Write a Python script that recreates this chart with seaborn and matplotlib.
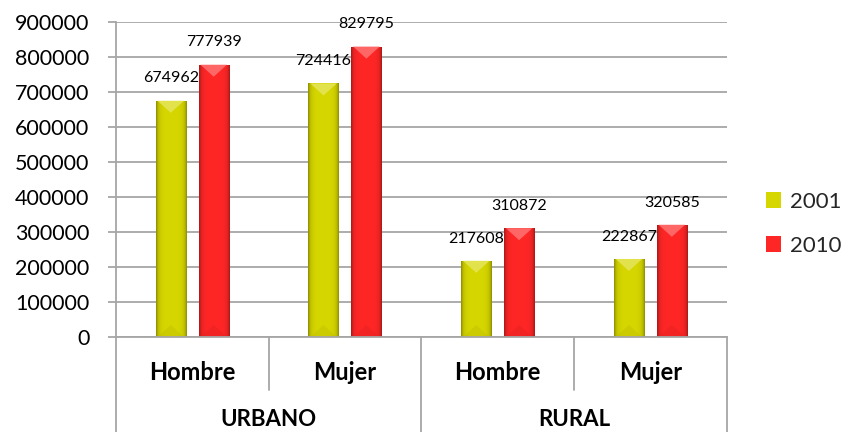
import numpy as np
import pandas as pd
import matplotlib
matplotlib.use("Agg")
import matplotlib.pyplot as plt
from matplotlib.patches import Polygon, Patch
from matplotlib.lines import Line2D
import matplotlib.transforms as mtransforms
import matplotlib.colors as mcolors
import seaborn as sns

# datos
zones = ["URBANO", "URBANO", "RURAL", "RURAL"]
sexes = ["Hombre", "Mujer", "Hombre", "Mujer"]
years = ["2001", "2010"]
values_2001 = [674962, 724416, 217608, 222867]
values_2010 = [777939, 829795, 310872, 320585]
yticks = [0, 100000, 200000, 300000, 400000, 500000, 600000, 700000, 800000, 900000]
colors = {"2001": "#D6D600", "2010": "#FF2626"}

keys = [z + " " + s for z, s in zip(zones, sexes)]
df = pd.DataFrame({
    "grupo": keys * 2,
    "anio": [years[0]] * 4 + [years[1]] * 4,
    "poblacion": values_2001 + values_2010,
})

sns.set_theme(style="white")
plt.rcParams["font.family"] = ["Lato", "DejaVu Sans"]
grid_c = "#A6A6A6"

fig = plt.figure(figsize=(8.46, 4.32), dpi=100)
ax = fig.add_axes([0.137, 0.22, 0.722, 0.729])

sns.barplot(data=df, x="grupo", y="poblacion", hue="anio", order=keys,
            hue_order=years, palette=colors, width=0.562, gap=0.3,
            saturation=1, edgecolor="none", legend=False, ax=ax)

ax.set_xlim(-0.5, 3.5)
ax.set_ylim(0, 900000)
ax.set_yticks(yticks)
ax.set_yticklabels([str(v) for v in yticks])

# sombreado tipo cilindro / bisel
data_per_px = 900000 / (fig.get_figheight() * fig.dpi * 0.729)
xdata_per_px = 4.0 / (fig.get_figwidth() * fig.dpi * 0.722)
t = np.linspace(0, 1, 80)
shade = 1 - 0.35 * (np.exp(-t / 0.07) + np.exp(-(1 - t) / 0.07))
bars = list(ax.patches)
for p in bars:
    x0, w, h = p.get_x(), p.get_width(), p.get_height()
    base = np.array(mcolors.to_rgb(p.get_facecolor()))
    img = np.clip(base[None, None, :] * shade[None, :, None], 0, 1)
    im = ax.imshow(img, extent=[x0, x0 + w, 0, h], aspect="auto",
                   zorder=2, interpolation="bilinear")
    im.set_clip_path(p)
    d = (w / xdata_per_px) * 0.4 * data_per_px
    light = np.clip(base + (1 - base) * 0.3, 0, 1)
    top = Polygon([(x0 + w * 0.06, h), (x0 + w * 0.94, h), (x0 + w / 2, h - d)],
                  closed=True, facecolor=light, edgecolor="none", zorder=2.1)
    ax.add_patch(top)
    bot = Polygon([(x0 + w * 0.06, 0), (x0 + w * 0.94, 0), (x0 + w / 2, d)],
                  closed=True, facecolor=base * 0.85, edgecolor="none",
                  alpha=0.3, zorder=2.1)
    ax.add_patch(bot)
ax.set_xlim(-0.5, 3.5)
ax.set_ylim(0, 900000)

for cont, vals in zip(ax.containers, [values_2001, values_2010]):
    ax.bar_label(cont, labels=[str(v) for v in vals], padding=11,
                 fontsize=11.5, color="black")

# ejes y cuadricula
ax.set_axisbelow(True)
ax.yaxis.grid(True, color=grid_c, linewidth=1.3)
ax.xaxis.grid(False)
for s in ["top", "right"]:
    ax.spines[s].set_visible(False)
for s in ["left", "bottom"]:
    ax.spines[s].set_color(grid_c)
    ax.spines[s].set_linewidth(1.3)
ax.tick_params(axis="y", length=6, width=1.3, color=grid_c, direction="out",
               pad=13, labelsize=15.5, left=True, labelcolor="black")
ax.set_xticks(range(4))
ax.set_xticklabels(sexes, fontsize=17, fontweight="bold")
ax.tick_params(axis="x", length=0, pad=17, labelcolor="black")
ax.set_xlabel("")
ax.set_ylabel("")

# tabla de categorias
trans = mtransforms.blended_transform_factory(ax.transData, ax.transAxes)
for xv in [-0.5, 1.5, 3.5]:
    ax.add_line(Line2D([xv, xv], [0, -0.31], transform=trans, color=grid_c,
                       lw=1.3, clip_on=False))
for xv in [0.5, 2.5]:
    ax.add_line(Line2D([xv, xv], [0, -0.168], transform=trans, color=grid_c,
                       lw=1.3, clip_on=False))
for zone in ["URBANO", "RURAL"]:
    pos = [i for i, z in enumerate(zones) if z == zone]
    ax.text(np.mean(pos), -0.263, zone, transform=trans, ha="center",
            va="center", fontsize=16, fontweight="bold", color="black")

handles = [Patch(facecolor=colors[y], edgecolor="none") for y in years]
fig.legend(handles, years, loc="center left", bbox_to_anchor=(0.905, 0.482),
           frameon=False, fontsize=16, handlelength=0.7, handleheight=0.7,
           handletextpad=0.4, labelspacing=1.1, borderpad=0, borderaxespad=0)

fig.savefig("out.png", dpi=100)
